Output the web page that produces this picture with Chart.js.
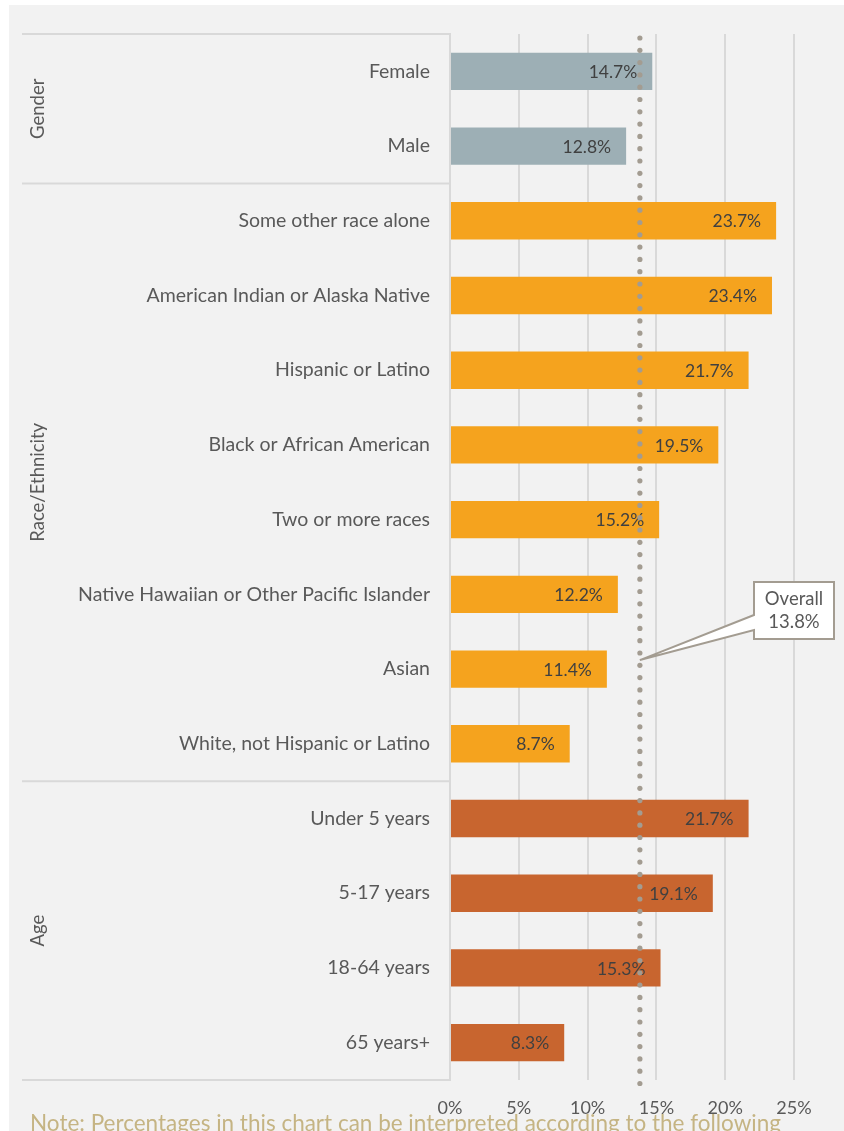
<!DOCTYPE html>
<html>
<head>
<meta charset="utf-8">
<script src="https://cdn.jsdelivr.net/npm/chart.js@4/dist/chart.umd.min.js"></script>
<style>
  html, body { margin: 0; padding: 0; background: #ffffff; }
  #wrap { width: 844px; height: 1131px; position: relative; }
</style>
</head>
<body>
<div id="wrap"><canvas id="myChart" width="844" height="1131"></canvas></div>
<script>
// values, in percent
const categories = ["Female", "Male", "Some other race alone", "American Indian or Alaska Native", "Hispanic or Latino", "Black or African American", "Two or more races", "Native Hawaiian or Other Pacific Islander", "Asian", "White, not Hispanic or Latino", "Under 5 years", "5-17 years", "18-64 years", "65 years+"]
const values = [14.7, 12.8, 23.7, 23.4, 21.7, 19.5, 15.2, 12.2, 11.4, 8.7, 21.7, 19.1, 15.3, 8.3]
const groupNames = ["Gender", "Race/Ethnicity", "Age"]
const groupSizes = [2, 8, 4]
const groupColors = ["#9dafb5", "#f5a31e", "#c8652f"]
const xTicks = [0, 5, 10, 15, 20, 25]
const overall = 13.8
const calloutRow = "Asian"
const noteText = "Note: Percentages in this chart can be interpreted according to the following"

// one colour per bar, from its group
const barColors = []
groupSizes.forEach((n, g) => { for (let i = 0; i < n; i++) barColors.push(groupColors[g]) })

const extras = {
    id: 'extras',
    beforeDraw(chart) {
        const c = chart.ctx
        c.save()
        c.fillStyle = '#ffffff'
        c.fillRect(0, 0, chart.width, chart.height)
        c.fillStyle = '#f2f2f2'
        c.fillRect(9, 5, chart.width - 9, chart.height - 5)
        c.restore()
    },
    afterDatasetsDraw(chart) {
        const c = chart.ctx
        const x = chart.scales.x
        const y = chart.scales.y
        const area = chart.chartArea
        c.save()

        // value labels inside bar ends
        c.font = '17.5px Lato'
        c.fillStyle = '#404040'
        c.textAlign = 'right'
        c.textBaseline = 'middle'
        values.forEach((v, i) => {
            c.fillText(v.toFixed(1) + '%', x.getPixelForValue(v) - 15, y.getPixelForValue(i) + 1)
        })

        // group separators and rotated group names
        const step = (area.bottom - area.top) / categories.length
        let top = area.top
        c.strokeStyle = '#d9d9d9'
        c.lineWidth = 2
        const lineY = [top]
        groupSizes.forEach(n => { top += n * step; lineY.push(top) })
        lineY.forEach(ly => {
            c.beginPath()
            c.moveTo(22, ly)
            c.lineTo(area.left, ly)
            c.stroke()
        })
        c.font = '18.5px Lato'
        c.fillStyle = '#595959'
        c.textAlign = 'center'
        c.textBaseline = 'middle'
        groupNames.forEach((name, g) => {
            const mid = (lineY[g] + lineY[g + 1]) / 2
            c.save()
            c.translate(38, mid)
            c.rotate(-Math.PI / 2)
            c.fillText(name, 0, 0)
            c.restore()
        })

        // dotted overall line
        const ox = x.getPixelForValue(overall)
        c.fillStyle = '#a39c91'
        for (let dy = area.top + 4; dy < area.bottom + 4; dy += 12.3) {
            c.beginPath()
            c.arc(ox, dy, 2.6, 0, Math.PI * 2)
            c.fill()
        }

        // callout
        const px = ox
        const py = y.getPixelForValue(categories.indexOf(calloutRow)) - 9
        const bx = 754, by = 582, bw = 80, bh = 57
        c.fillStyle = '#ffffff'
        c.strokeStyle = '#a39c91'
        c.lineWidth = 2
        c.beginPath()
        c.moveTo(bx, by)
        c.lineTo(bx + bw, by)
        c.lineTo(bx + bw, by + bh)
        c.lineTo(bx, by + bh)
        c.lineTo(bx, by + 48)
        c.lineTo(px, py)
        c.lineTo(bx, by + 33)
        c.closePath()
        c.fill()
        c.stroke()
        c.fillStyle = '#595959'
        c.font = '18.5px Lato'
        c.fillText('Overall', bx + bw / 2, by + 17)
        c.fillText(overall.toFixed(1) + '%', bx + bw / 2, by + 40)

        // note, cut by the bottom edge
        c.font = '22.5px Lato'
        c.fillStyle = '#c5b483'
        c.textAlign = 'left'
        c.textBaseline = 'alphabetic'
        c.fillText(noteText, 30, 1131)
        c.restore()
    }
}

Chart.defaults.font.family = 'Lato'
Chart.defaults.color = '#595959'

const ctx = document.getElementById('myChart')
new Chart(ctx, {
    type: 'bar',
    data: {
        labels: categories,
        datasets: [{
            data: values,
            backgroundColor: barColors,
            borderWidth: 0,
            barPercentage: 0.5,
            categoryPercentage: 1
        }]
    },
    plugins: [extras],
    options: {
        indexAxis: 'y',
        responsive: false,
        animation: false,
        layout: { padding: { top: 34, right: 50, left: 0, bottom: 0 } },
        plugins: { legend: { display: false }, tooltip: { enabled: false } },
        scales: {
            x: {
                min: 0,
                max: 25,
                afterBuildTicks: s => { s.ticks = xTicks.map(v => ({ value: v })) },
                afterFit: s => { s.height = 51 },
                ticks: {
                    callback: v => v + '%',
                    font: { size: 18 },
                    color: '#595959',
                    padding: 17,
                    maxRotation: 0
                },
                grid: { color: '#d9d9d9', lineWidth: 2, drawTicks: false },
                border: { display: false }
            },
            y: {
                afterFit: s => { s.width = 450 },
                ticks: { font: { size: 19.5 }, color: '#595959', padding: 12, autoSkip: false },
                grid: { display: false },
                border: { color: '#d9d9d9', width: 2 }
            }
        }
    }
})
</script>
</body>
</html>
